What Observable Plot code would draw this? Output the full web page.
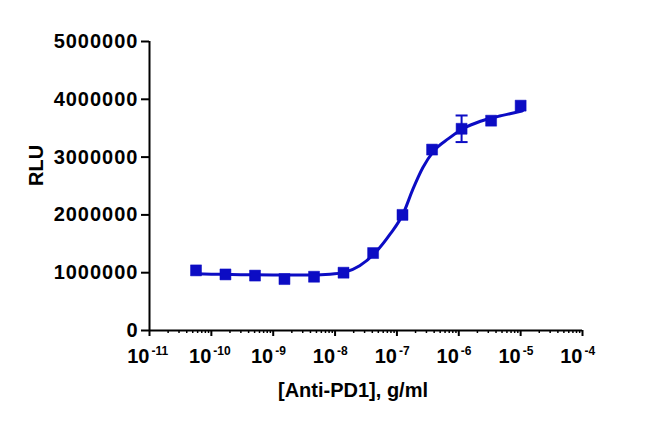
<!DOCTYPE html>
<html>
<head>
<meta charset="utf-8">
<script src="https://cdn.jsdelivr.net/npm/d3@7"></script>
<script src="https://cdn.jsdelivr.net/npm/@observablehq/plot@0.6"></script>
<style>
  html, body { margin: 0; padding: 0; background: #fff; }
  g[aria-label="y-axis tick label"] text { letter-spacing: 1px; }
  g[aria-label="x-base"] text { letter-spacing: 1px; }
  g[aria-label="x-exp"] text { letter-spacing: 1px; }
  g[aria-label="x-title"] text { letter-spacing: 0.5px; }
</style>
</head>
<body>
<div id="chart"></div>
<script>
// Concentrations (g/ml), 3-fold dilutions from 10 µg/ml
const conc = [5.65e-11, 1.69e-10, 5.08e-10, 1.52e-9, 4.57e-9, 1.37e-8, 4.12e-8, 1.23e-7, 3.70e-7, 1.11e-6, 3.33e-6, 1.0e-5];
const rlu  = [1040000, 970000, 950000, 890000, 930000, 1000000, 1340000, 2000000, 3130000, 3490000, 3630000, 3890000];
const sem  = [0, 0, 0, 0, 0, 0, 0, 0, 0, 230000, 0, 0];

// Fitted curve
const fitConc = [5.65e-11, 1.0e-10, 3.0e-10, 1.0e-9, 3.0e-9, 8.3e-9, 1.45e-8, 2.5e-8, 4.5e-8, 7.8e-8, 1.26e-7, 1.82e-7, 2.63e-7, 3.9e-7, 6.8e-7, 1.17e-6, 2.24e-6, 4.2e-6, 8.9e-6, 1.07e-5];
const fitRlu  = [980000, 975000, 965000, 960000, 960000, 975000, 1010000, 1120000, 1350000, 1670000, 2020000, 2450000, 2820000, 3100000, 3320000, 3490000, 3620000, 3700000, 3780000, 3800000];

const yTicks = [0, 1000000, 2000000, 3000000, 4000000, 5000000];
const decades = [-11, -10, -9, -8, -7, -6, -5, -4];
const xLabel = "[Anti-PD1], g/ml";
const yLabel = "RLU";

const blue = "#0c0cc4";
const font = "'Liberation Sans', Arial, sans-serif";

const points = conc.map((c, i) => ({x: c, y: rlu[i], e: sem[i]}));
const errs = points.filter(d => d.e > 0);
const fit = fitConc.map((c, i) => ({x: c, y: fitRlu[i]}));
const minor = [];
for (const d of decades.slice(0, -1)) for (let m = 2; m <= 9; m++) minor.push(m * Math.pow(10, d));
const major = decades.map(d => Math.pow(10, d));

const hbar = {draw(ctx) { ctx.moveTo(-6, 0); ctx.lineTo(6, 0); }};

const chart = Plot.plot({
  width: 650,
  height: 423,
  marginLeft: 149,
  marginRight: 68,
  marginTop: 41,
  marginBottom: 93,
  style: {fontFamily: font, color: "#000", background: "#fff"},
  x: {type: "log", domain: [1e-11, 1e-4]},
  y: {domain: [0, 5000000]},
  marks: [
    Plot.axisY(yTicks, {tickSize: 8, tickPadding: 3, tickFormat: d => String(d), fontSize: 20, fontWeight: "bold", strokeWidth: 2, label: null}),
    Plot.axisX(minor, {tickSize: 3, tickFormat: () => "", strokeWidth: 1.5, label: null}),
    Plot.axisX(major, {tickSize: 6, tickFormat: () => "", strokeWidth: 2, label: null}),
    Plot.text(decades, {x: d => Math.pow(10, d), frameAnchor: "bottom", text: () => "10", textAnchor: "end", lineAnchor: "bottom", dx: 0, dy: 32, fontSize: 20, fontWeight: "bold", ariaLabel: "x-base"}),
    Plot.text(decades, {x: d => Math.pow(10, d), frameAnchor: "bottom", text: d => "-" + Math.abs(d), textAnchor: "start", lineAnchor: "bottom", dx: 2, dy: 24, fontSize: 12, fontWeight: "bold", ariaLabel: "x-exp"}),
    Plot.text([xLabel], {frameAnchor: "bottom", text: d => d, lineAnchor: "bottom", dx: -13, dy: 66, fontSize: 20, fontWeight: "bold", ariaLabel: "x-title"}),
    Plot.text([yLabel], {frameAnchor: "left", text: d => d, rotate: -90, dx: -113, fontSize: 20, fontWeight: "bold"}),
    Plot.ruleX([1e-11], {stroke: "#000", strokeWidth: 2}),
    Plot.ruleY([0], {stroke: "#000", strokeWidth: 2}),
    Plot.line(fit, {x: "x", y: "y", stroke: blue, strokeWidth: 3, curve: "monotone-x"}),
    Plot.ruleX(errs, {x: "x", y1: d => d.y - d.e, y2: d => d.y + d.e, stroke: blue, strokeWidth: 2}),
    Plot.dot(errs, {x: "x", y: d => d.y - d.e, symbol: hbar, stroke: blue, strokeWidth: 2, fill: "none"}),
    Plot.dot(errs, {x: "x", y: d => d.y + d.e, symbol: hbar, stroke: blue, strokeWidth: 2, fill: "none"}),
    Plot.dot(points, {x: "x", y: "y", symbol: "square", r: 6.2, fill: blue, stroke: blue, strokeWidth: 0.5})
  ]
});
document.getElementById("chart").appendChild(chart);
</script>
</body>
</html>
